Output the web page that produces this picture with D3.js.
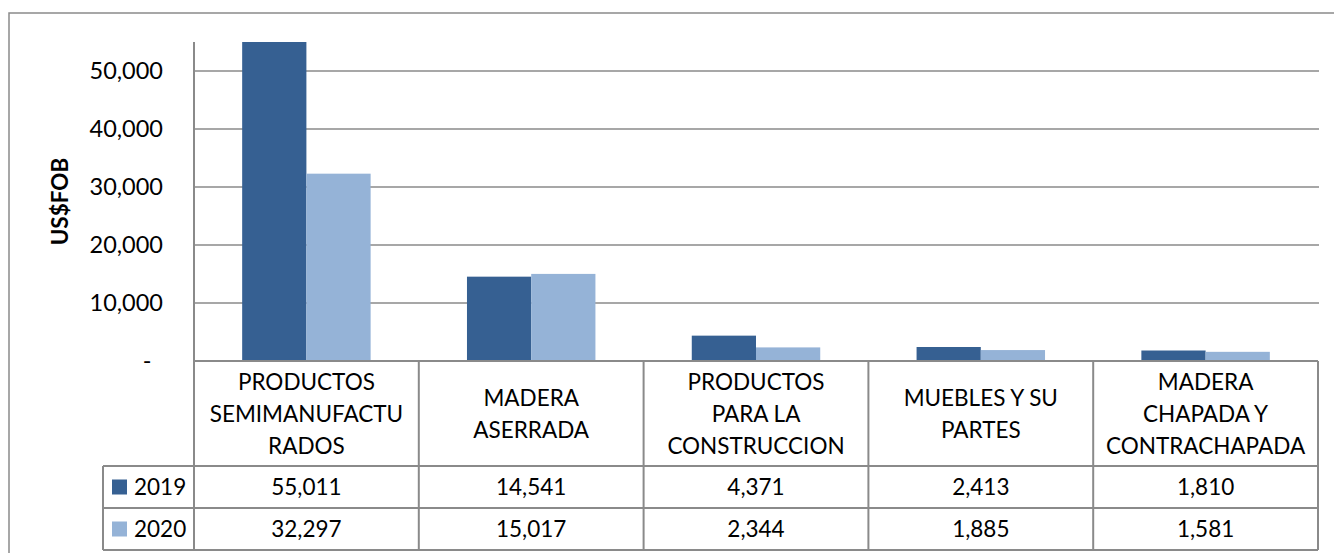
<!DOCTYPE html>
<html>
<head>
<meta charset="utf-8">
<script src="https://cdn.jsdelivr.net/npm/d3@7"></script>
<style>
  body { margin: 0; background: #fff; }
  text { font-family: Lato, "Open Sans", sans-serif; fill: #000; }
</style>
</head>
<body>
<div id="canvas"></div>
<script>
// chart values
var categories = ["PRODUCTOS SEMIMANUFACTURADOS", "MADERA ASERRADA", "PRODUCTOS PARA LA CONSTRUCCION", "MUEBLES Y SU PARTES", "MADERA CHAPADA Y CONTRACHAPADA"];
var categoryLines = [
    ["PRODUCTOS", "SEMIMANUFACTU", "RADOS"],
    ["MADERA", "ASERRADA"],
    ["PRODUCTOS", "PARA LA", "CONSTRUCCION"],
    ["MUEBLES Y SU", "PARTES"],
    ["MADERA", "CHAPADA Y", "CONTRACHAPADA"]
];
var years = ["2019", "2020"];
var values2019 = [55011, 14541, 4371, 2413, 1810];
var values2020 = [32297, 15017, 2344, 1885, 1581];
var yTicks = [0, 10000, 20000, 30000, 40000, 50000];
var colors = ["#366092", "#95b3d7"];

var width = 1334;
var height = 553;
var lineColor = "#8a8a8a";
var fontSize = "22.5px";

// plot and table dimensions
var plotLeft = 194;
var plotRight = 1318;
var plotTop = 42;
var baseline = 361;
var headerBottom = 466;
var rowHeight = 42;
var legendLeft = 103;

var series = [values2019, values2020];

var svg = d3.select("#canvas")
    .append("svg")
    .attr("width", width)
    .attr("height", height);

// outer chart frame
svg.append("rect")
    .attr("x", 9)
    .attr("y", 13)
    .attr("width", width + 20)
    .attr("height", height + 20)
    .attr("fill", "none")
    .attr("stroke", lineColor)
    .attr("stroke-width", 1.5);

var y = d3.scaleLinear()
    .domain([0, 55000])
    .range([baseline, plotTop]);

var x = d3.scaleBand()
    .domain(categories)
    .range([plotLeft, plotRight])
    .padding(0);

var xInner = d3.scaleBand()
    .domain(years)
    .range([0, x.bandwidth()])
    .paddingInner(0)
    .paddingOuter(0.75);

// gridlines
svg.selectAll("line.grid")
    .data(yTicks.filter(function(d) { return d > 0; }))
    .enter()
    .append("line")
    .attr("class", "grid")
    .attr("x1", plotLeft)
    .attr("x2", plotRight + 1)
    .attr("y1", function(d) { return y(d); })
    .attr("y2", function(d) { return y(d); })
    .attr("stroke", lineColor)
    .attr("stroke-width", 1.5);

// tick labels
var fmt = d3.format(",");
svg.selectAll("text.tick")
    .data(yTicks)
    .enter()
    .append("text")
    .attr("class", "tick")
    .attr("x", function(d) { return d == 0 ? 147 : 163; })
    .attr("y", function(d) { return y(d); })
    .attr("dy", "0.35em")
    .attr("text-anchor", function(d) { return d == 0 ? "middle" : "end"; })
    .style("font-size", "23.5px")
    .text(function(d) { return d == 0 ? "-" : fmt(d); });

// axis title
svg.append("text")
    .attr("transform", "translate(60," + ((plotTop + baseline) / 2) + ") rotate(-90)")
    .attr("text-anchor", "middle")
    .attr("dy", "0.35em")
    .style("font-size", "22.5px")
    .style("font-weight", "bold")
    .text("US$FOB");

// bars
years.forEach(function(year, s) {
    svg.selectAll("rect.bar" + year)
        .data(series[s])
        .enter()
        .append("rect")
        .attr("class", "bar" + year)
        .attr("x", function(d, i) { return x(categories[i]) + xInner(year); })
        .attr("y", function(d) { return y(Math.min(d, 55000)); })
        .attr("width", xInner.bandwidth())
        .attr("height", function(d) { return baseline - y(Math.min(d, 55000)); })
        .attr("fill", colors[s]);
});

// data table lines
var tableBottom = headerBottom + rowHeight * years.length;

svg.append("line")
    .attr("x1", plotLeft).attr("x2", plotRight)
    .attr("y1", baseline).attr("y2", baseline)
    .attr("stroke", lineColor).attr("stroke-width", 2);

for (var r = 0; r <= years.length; r++) {
    svg.append("line")
        .attr("x1", legendLeft).attr("x2", plotRight)
        .attr("y1", headerBottom + r * rowHeight).attr("y2", headerBottom + r * rowHeight)
        .attr("stroke", lineColor).attr("stroke-width", 2);
}

// y axis line runs down through the table
svg.append("line")
    .attr("x1", plotLeft).attr("x2", plotLeft)
    .attr("y1", plotTop).attr("y2", tableBottom)
    .attr("stroke", lineColor).attr("stroke-width", 2);

categories.forEach(function(c) {
    var xr = x(c) + x.bandwidth();
    svg.append("line")
        .attr("x1", xr).attr("x2", xr)
        .attr("y1", baseline).attr("y2", tableBottom)
        .attr("stroke", lineColor).attr("stroke-width", 2);
});

svg.append("line")
    .attr("x1", legendLeft).attr("x2", legendLeft)
    .attr("y1", headerBottom).attr("y2", tableBottom)
    .attr("stroke", lineColor).attr("stroke-width", 2);

// category headers
var lineHeight = 32;
categories.forEach(function(c, i) {
    var lines = categoryLines[i];
    var cx = x(c) + x.bandwidth() / 2;
    var mid = (baseline + headerBottom) / 2 + 1;
    var startY = mid - (lines.length - 1) * lineHeight / 2;
    lines.forEach(function(l, j) {
        svg.append("text")
            .attr("x", cx)
            .attr("y", startY + j * lineHeight)
            .attr("dy", "0.35em")
            .attr("text-anchor", "middle")
            .style("font-size", fontSize)
            .text(l);
    });
});

// table rows with legend keys
years.forEach(function(year, s) {
    var rowMid = headerBottom + s * rowHeight + rowHeight / 2;

    svg.append("rect")
        .attr("x", 112)
        .attr("y", rowMid - 7.5)
        .attr("width", 15)
        .attr("height", 15)
        .attr("fill", colors[s]);

    svg.append("text")
        .attr("x", 134)
        .attr("y", rowMid)
        .attr("dy", "0.35em")
        .style("font-size", fontSize)
        .text(year);

    svg.selectAll("text.val" + year)
        .data(series[s])
        .enter()
        .append("text")
        .attr("class", "val" + year)
        .attr("x", function(d, i) { return x(categories[i]) + x.bandwidth() / 2; })
        .attr("y", rowMid)
        .attr("dy", "0.35em")
        .attr("text-anchor", "middle")
        .style("font-size", fontSize)
        .text(function(d) { return fmt(d); });
});
</script>
</body>
</html>
